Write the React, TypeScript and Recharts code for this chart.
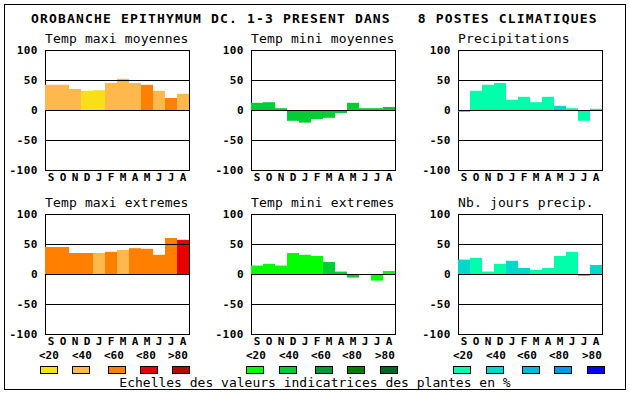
import { Bar, BarChart, Cell, ReferenceArea, ReferenceLine, XAxis, YAxis } from "recharts"

const MONTHS = ["S", "O", "N", "D", "J", "F", "M", "A", "M", "J", "J", "A"]
const Y_TICKS = [-100, -50, 0, 50, 100]
const GRID_LINES = [50, 0, -50]

// colour scales (classes <20 <40 <60 <80 >80)
const CLASS_LABELS = ["<20", "<40", "<60", "<80", ">80"]
const WARM_COLORS = ["#F8E018", "#FFB84C", "#FF8000", "#E80000", "#B00C00"]
const COLD_COLORS = ["#00FF00", "#00CC33", "#009933", "#007F00", "#006622"]
const RAIN_COLORS = ["#00FFAA", "#00D8CC", "#00BBDD", "#0099EE", "#0000FF"]

// Temp maxi moyennes
const tmaxMoy = [42, 42, 35, 32, 33, 45, 52, 45, 42, 32, 20, 27]
const tmaxMoyClass = [1, 1, 1, 0, 0, 1, 1, 1, 2, 1, 2, 1]
// Temp mini moyennes
const tminMoy = [12, 13, 3, -18, -21, -15, -13, -5, 12, 3, 3, 5]
const tminMoyClass = [1, 1, 1, 1, 1, 1, 1, 1, 1, 1, 1, 1]
// Precipitations
const precip = [-3, 32, 42, 45, 17, 22, 13, 22, 7, 3, -18, 2]
const precipClass = [1, 0, 0, 0, 0, 0, 0, 0, 1, 0, 0, 0]
// Temp maxi extremes
const tmaxExt = [45, 45, 35, 35, 35, 37, 40, 43, 42, 32, 60, 57]
const tmaxExtClass = [2, 2, 2, 2, 1, 2, 1, 2, 2, 2, 2, 3]
// Temp mini extremes
const tminExt = [14, 17, 14, 35, 32, 30, 20, 4, -6, 0, -11, 5]
const tminExtClass = [0, 0, 0, 0, 0, 0, 1, 1, 1, 0, 0, 0]
// Nb. jours precip.
const nbJours = [24, 27, 4, 17, 22, 10, 7, 10, 30, 37, -3, 15]
const nbJoursClass = [1, 0, 0, 0, 1, 1, 0, 0, 0, 0, 1, 1]

const MONO = "DejaVu Sans Mono"
const TOP_PAD = 8

interface PanelProps {
  title: string
  values: number[]
  classes: number[]
  colors: string[]
  left: number
  top: number
}

function Panel({ title, values, classes, colors, left, top }: PanelProps) {
  const data = MONTHS.map((m, i) => ({ month: m, value: values[i], cls: classes[i] }))
  const xTick = { fill: "#000", fontSize: 11, fontWeight: "bold", fontFamily: MONO }
  const yTick = { fill: "#000", fontSize: 11, fontWeight: "bold", fontFamily: MONO, letterSpacing: 0.5 }
  return (
    <>
      <div
        style={{
          position: "absolute",
          left: left,
          top: top - 18,
          fontFamily: MONO,
          fontSize: 13,
          lineHeight: "13px",
          letterSpacing: 0.15,
          whiteSpace: "pre",
        }}
      >
        {title}
      </div>
      <div style={{ position: "absolute", left: left - 40, top: top - TOP_PAD }}>
        <BarChart
          width={186}
          height={120 + TOP_PAD + 18}
          data={data}
          margin={{ top: TOP_PAD, right: 2, bottom: 0, left: 0 }}
          barCategoryGap={0}
        >
          <XAxis
            dataKey="month"
            allowDuplicatedCategory
            interval={0}
            axisLine={false}
            tickLine={false}
            tickSize={1}
            tickMargin={2}
            height={18}
            tick={xTick}
          />
          <YAxis
            domain={[-100, 100]}
            ticks={Y_TICKS}
            interval={0}
            width={40}
            axisLine={false}
            tickLine={false}
            tickSize={5}
            tickMargin={2}
            tick={yTick}
          />
          <Bar dataKey="value" isAnimationActive={false}>
            {data.map((d, i) => (
              <Cell key={i} fill={colors[d.cls]} />
            ))}
          </Bar>
          {GRID_LINES.map((y) => (
            <ReferenceLine key={y} y={y} stroke="#000" strokeWidth={1} shapeRendering="crispEdges" />
          ))}
          <ReferenceArea y1={-100} y2={100} fill="none" stroke="#000" strokeWidth={1} shapeRendering="crispEdges" />
        </BarChart>
      </div>
    </>
  )
}

function LegendGroup({ colors, boxLefts, labelLefts }: { colors: string[]; boxLefts: number[]; labelLefts: number[] }) {
  return (
    <>
      {CLASS_LABELS.map((lab, i) => (
        <div
          key={"l" + i}
          style={{
            position: "absolute",
            left: labelLefts[i],
            top: 350,
            fontFamily: MONO,
            fontSize: 11,
            fontWeight: "bold",
            lineHeight: "11px",
            whiteSpace: "pre",
          }}
        >
          {lab}
        </div>
      ))}
      {colors.map((c, i) => (
        <div
          key={"b" + i}
          style={{
            position: "absolute",
            left: boxLefts[i],
            top: 366,
            width: 18,
            height: 8,
            boxSizing: "border-box",
            border: "1px solid #000",
            background: c,
          }}
        />
      ))}
    </>
  )
}

export default function App() {
  return (
    <div style={{ position: "absolute", left: 0, top: 0, width: 630, height: 394, background: "#fff" }}>
      <div
        style={{
          position: "absolute",
          left: 4,
          top: 4,
          width: 622,
          height: 386,
          boxSizing: "border-box",
          border: "1px solid #000",
        }}
      />
      <div
        style={{
          position: "absolute",
          left: 31,
          top: 12,
          fontFamily: MONO,
          fontSize: 13,
          fontWeight: "bold",
          lineHeight: "13px",
          letterSpacing: 1.17,
          whiteSpace: "pre",
        }}
      >
        {"OROBANCHE EPITHYMUM DC. 1-3 PRESENT DANS   8 POSTES CLIMATIQUES"}
      </div>

      <Panel title="Temp maxi moyennes" values={tmaxMoy} classes={tmaxMoyClass} colors={WARM_COLORS} left={45} top={50} />
      <Panel title="Temp mini moyennes" values={tminMoy} classes={tminMoyClass} colors={COLD_COLORS} left={251} top={50} />
      <Panel title="Precipitations" values={precip} classes={precipClass} colors={RAIN_COLORS} left={458} top={50} />
      <Panel title="Temp maxi extremes" values={tmaxExt} classes={tmaxExtClass} colors={WARM_COLORS} left={45} top={214} />
      <Panel title="Temp mini extremes" values={tminExt} classes={tminExtClass} colors={COLD_COLORS} left={251} top={214} />
      <Panel title="Nb. jours precip." values={nbJours} classes={nbJoursClass} colors={RAIN_COLORS} left={458} top={214} />

      <LegendGroup colors={WARM_COLORS} boxLefts={[40, 72, 108, 140, 172]} labelLefts={[39, 72, 104, 136, 168]} />
      <LegendGroup colors={COLD_COLORS} boxLefts={[246, 279, 315, 347, 380]} labelLefts={[246, 279, 311, 342, 375]} />
      <LegendGroup colors={RAIN_COLORS} boxLefts={[453, 486, 522, 554, 587]} labelLefts={[453, 486, 517, 549, 582]} />

      <div
        style={{
          position: "absolute",
          left: 0,
          top: 376,
          width: 630,
          textAlign: "center",
          fontFamily: MONO,
          fontSize: 13,
          lineHeight: "13px",
          whiteSpace: "pre",
        }}
      >
        Echelles des valeurs indicatrices des plantes en %
      </div>
    </div>
  )
}
